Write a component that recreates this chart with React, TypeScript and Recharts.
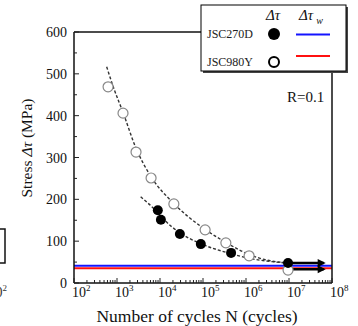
import { ScatterChart, Scatter, XAxis, YAxis, ReferenceLine } from "recharts";

const FONT = '"Liberation Serif", "Times New Roman", serif';
const W = 358;
const H = 326;
// plot frame in page pixels
const PLOT = { left: 74, top: 32, right: 332, bottom: 283 };

// axes
const decades = [1e2, 1e3, 1e4, 1e5, 1e6, 1e7, 1e8];
const minorFactors = [2, 3, 4, 5, 6, 7, 8, 9];
const yTicks = [0, 50, 100, 150, 200, 250, 300, 350, 400, 450, 500, 550, 600];
const yLabelled = [0, 100, 200, 300, 400, 500, 600];

// test data (N cycles, stress MPa)
const jsc270dPoints = [
  { n: 8900, s: 174 },
  { n: 10500, s: 151 },
  { n: 29000, s: 117 },
  { n: 89000, s: 93 },
  { n: 450000, s: 72 },
  { n: 9.5e6, s: 48 },
];
const jsc980yPoints = [
  { n: 620, s: 469 },
  { n: 1380, s: 406 },
  { n: 2770, s: 313 },
  { n: 6200, s: 251 },
  { n: 21000, s: 189 },
  { n: 112000, s: 127 },
  { n: 340000, s: 96 },
  { n: 1.18e6, s: 65 },
  { n: 9.5e6, s: 31 },
];

// fitted S-N curves (dashed)
const fit270d = [
  { n: 3550, s: 206 },
  { n: 8900, s: 168 },
  { n: 12000, s: 153 },
  { n: 29000, s: 120 },
  { n: 89000, s: 94 },
  { n: 450000, s: 70 },
  { n: 1.5e6, s: 57 },
  { n: 4e6, s: 51 },
  { n: 9e6, s: 48 },
];
const fit980y = [
  { n: 575, s: 517 },
  { n: 824, s: 468 },
  { n: 1380, s: 408 },
  { n: 2770, s: 322 },
  { n: 6200, s: 254 },
  { n: 21000, s: 190 },
  { n: 112000, s: 128 },
  { n: 340000, s: 97 },
  { n: 1.18e6, s: 68 },
  { n: 3e6, s: 55 },
  { n: 9e6, s: 48 },
];

// run-out arrows
const arrow270d = [
  { n: 9.5e6, s: 48 },
  { n: 6.4e7, s: 48 },
];
const arrow980y = [
  { n: 9.5e6, s: 33 },
  { n: 6.4e7, s: 33 },
];
const ARROW_END = 6.4e7;

// fatigue limits Δτw
const limit270d = 41;
const limit980y = 35;

const xTicks: number[] = [];
decades.forEach((d, i) => {
  xTicks.push(d);
  if (i < decades.length - 1) minorFactors.forEach((f) => xTicks.push(d * f));
});

function XTick(props: any) {
  const { x, payload } = props;
  const v = payload.value as number;
  const exp = Math.round(Math.log10(v));
  const major = Math.abs(v - Math.pow(10, exp)) < v * 1e-6;
  return (
    <g>
      <line x1={x} x2={x} y1={PLOT.bottom} y2={PLOT.bottom - (major ? 5 : 3)} stroke="#222" strokeWidth={1} />
      {major && (
        <text x={x - 2} y={297} textAnchor="start" fontFamily={FONT} fontSize={14} fill="#111">
          10
          <tspan dy={-6} fontSize={9}>
            {exp}
          </tspan>
        </text>
      )}
    </g>
  );
}

function YTick(props: any) {
  const { y, payload } = props;
  const v = payload.value as number;
  const major = yLabelled.includes(v);
  return (
    <g>
      <line x1={PLOT.left} x2={PLOT.left + (major ? 5 : 3)} y1={y} y2={y} stroke="#222" strokeWidth={1} />
      {major && (
        <text x={67} y={y + 5} textAnchor="end" fontFamily={FONT} fontSize={14} fill="#111">
          {v}
        </text>
      )}
    </g>
  );
}

const filledDot = (p: any) => <circle cx={p.cx} cy={p.cy} r={5} fill="#000" />;
const openDot = (p: any) => <circle cx={p.cx} cy={p.cy} r={5} fill="#fff" stroke="#888" strokeWidth={1.2} />;
const noDot = () => <g />;
const arrowHead = (p: any) =>
  p.payload && p.payload.n === ARROW_END ? (
    <polygon points={`${p.cx + 2},${p.cy} ${p.cx - 6},${p.cy - 4} ${p.cx - 6},${p.cy + 4}`} fill="#000" />
  ) : (
    <g />
  );

const dashed = { stroke: "#333", strokeWidth: 1.4, strokeDasharray: "3 2" };
const frame = { stroke: "#111", strokeWidth: 1.5 };

export default function App() {
  return (
    <div style={{ position: "absolute", left: 0, top: 0, width: W, height: H, background: "#fff", fontFamily: FONT }}>
      <ScatterChart
        width={W}
        height={H}
        margin={{ top: PLOT.top - 1, left: PLOT.left - 1, right: W - PLOT.right - 1, bottom: H - PLOT.bottom - 1 }}
      >
        <XAxis
          dataKey="n"
          type="number"
          scale="log"
          domain={[1e2, 1e8]}
          allowDataOverflow
          ticks={xTicks}
          interval={0}
          tick={<XTick />}
          tickLine={false}
          axisLine={frame}
          height={1}
        />
        <XAxis
          xAxisId="top"
          orientation="top"
          dataKey="n"
          type="number"
          scale="log"
          domain={[1e2, 1e8]}
          allowDataOverflow
          tick={false}
          tickLine={false}
          axisLine={frame}
          height={1}
        />
        <YAxis
          dataKey="s"
          type="number"
          domain={[0, 600]}
          allowDataOverflow
          ticks={yTicks}
          interval={0}
          tick={<YTick />}
          tickLine={false}
          axisLine={frame}
          width={1}
        />
        <YAxis
          yAxisId="right"
          orientation="right"
          dataKey="s"
          type="number"
          domain={[0, 600]}
          allowDataOverflow
          tick={false}
          tickLine={false}
          axisLine={frame}
          width={1}
        />
        <ReferenceLine y={limit270d} stroke="#1414ff" strokeWidth={2} />
        <ReferenceLine y={limit980y} stroke="#ff1010" strokeWidth={2} />
        <Scatter data={fit980y} line={dashed} lineJointType="monotoneX" shape={noDot} isAnimationActive={false} />
        <Scatter data={fit270d} line={dashed} lineJointType="monotoneX" shape={noDot} isAnimationActive={false} />
        <Scatter data={arrow270d} line={{ stroke: "#000", strokeWidth: 2.5 }} shape={arrowHead} isAnimationActive={false} />
        <Scatter data={arrow980y} line={{ stroke: "#000", strokeWidth: 2.5 }} shape={arrowHead} isAnimationActive={false} />
        <Scatter data={jsc980yPoints} shape={openDot} isAnimationActive={false} />
        <Scatter data={jsc270dPoints} shape={filledDot} isAnimationActive={false} />
      </ScatterChart>

      <svg width={W} height={H} style={{ position: "absolute", left: 0, top: 0, pointerEvents: "none" }}>
        {/* bits of the neighbouring figure, cut off at the left edge */}
        <rect x={-20} y={229} width={25} height={34} fill="none" stroke="#111" strokeWidth={1.5} />
        <text x={7} y={297} textAnchor="end" fontFamily={FONT} fontSize={14} fill="#333">
          10
          <tspan dy={-6} fontSize={9}>
            2
          </tspan>
        </text>

        {/* legend */}
        <rect x={203} y={7} width={145} height={66} fill="#444" />
        <rect x={201} y={5} width={145} height={66} fill="#fff" stroke="#000" strokeWidth={1} />
        <text x={273} y={20} textAnchor="middle" fontFamily={FONT} fontStyle="italic" fontSize={15} fill="#111">
          Δτ
        </text>
        <text x={299} y={20} fontFamily={FONT} fontStyle="italic" fontSize={15} fill="#111">
          Δτ
          <tspan dx={3} dy={4} fontSize={10}>
            w
          </tspan>
        </text>
        <text x={207} y={38} fontFamily={FONT} fontSize={12} fill="#222">
          JSC270D
        </text>
        <circle cx={274} cy={34} r={6} fill="#000" />
        <line x1={296} x2={330} y1={34.5} y2={34.5} stroke="#1414ff" strokeWidth={2} />
        <text x={207} y={66} fontFamily={FONT} fontSize={12} fill="#222">
          JSC980Y
        </text>
        <circle cx={274} cy={62} r={5} fill="#fff" stroke="#000" strokeWidth={2} />
        <line x1={296} x2={330} y1={56} y2={56} stroke="#ff1010" strokeWidth={2} />

        <text x={287} y={102} fontFamily={FONT} fontSize={15} fill="#111">
          R=0.1
        </text>

        {/* axis titles */}
        <text
          x={0}
          y={0}
          transform="translate(32,148) rotate(-90)"
          textAnchor="middle"
          fontFamily={FONT}
          fontSize={15.5}
          fill="#111"
        >
          Stress <tspan fontStyle="italic">Δτ</tspan> (MPa)
        </text>
        <text x={197} y={322} textAnchor="middle" fontFamily={FONT} fontSize={17.5} fill="#111">
          Number of cycles N (cycles)
        </text>
      </svg>
    </div>
  );
}
